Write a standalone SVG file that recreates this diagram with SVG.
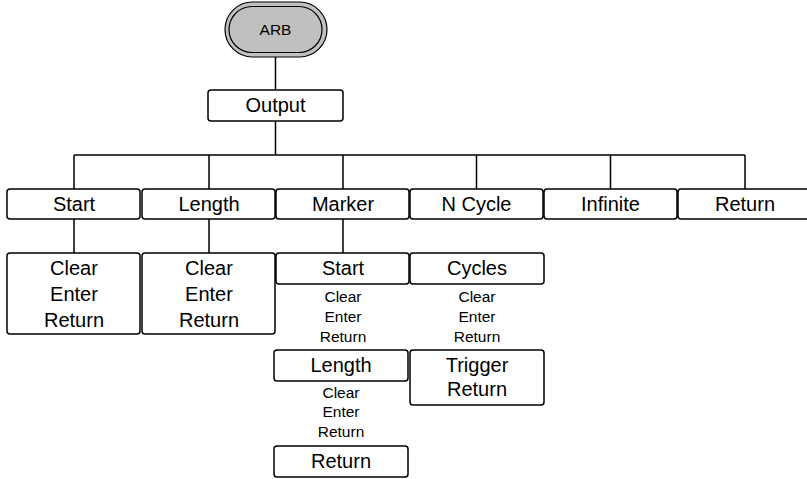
<svg xmlns="http://www.w3.org/2000/svg" width="807" height="479" viewBox="0 0 807 479">
<style>
.box{fill:#fff;stroke:#000;stroke-width:1.5}
.t{font-family:"Liberation Sans",Arial,sans-serif;font-size:20px;text-anchor:middle;fill:#000}
.s{font-family:"Liberation Sans",Arial,sans-serif;font-size:15.5px;text-anchor:middle;fill:#000}
.c{fill:none;stroke:#000;stroke-width:1.5}
</style>
<rect width="807" height="479" fill="#fff"/>
<g id="connectors">
<path class="c" d="M275.5 57V90M275.5 121V155M74 155H745M74 155V189M209 155V189M343 155V189M476.5 155V189M610.5 155V189M745 155V189M74 219V253M209 219V253M343 219V253"/>
</g>
<g id="arb">
<rect x="225" y="2" width="102" height="55" rx="27.5" fill="#c0c0c0" stroke="#000" stroke-width="1.2"/>
<rect x="229" y="6.5" width="93" height="46" rx="23" fill="none" stroke="#000" stroke-width="1.2"/>
<text class="s" x="275.5" y="35" font-size="15.5">ARB</text>
</g>
<g id="output"><rect class="box" x="208" y="90" width="135" height="31" rx="3"/><text class="t" x="275.5" y="112">Output</text></g>
<g id="start"><rect class="box" x="7" y="189" width="133" height="30" rx="3"/><text class="t" x="74" y="211">Start</text></g>
<g id="length"><rect class="box" x="142" y="189" width="133" height="30" rx="3"/><text class="t" x="209" y="211">Length</text></g>
<g id="marker"><rect class="box" x="276" y="189" width="133" height="30" rx="3"/><text class="t" x="343" y="211">Marker</text></g>
<g id="ncycle"><rect class="box" x="410" y="189" width="133" height="30" rx="3"/><text class="t" x="476.5" y="211">N Cycle</text></g>
<g id="infinite"><rect class="box" x="544" y="189" width="133" height="30" rx="3"/><text class="t" x="610.5" y="211">Infinite</text></g>
<g id="return"><rect class="box" x="678" y="189" width="134" height="30" rx="3"/><text class="t" x="745" y="211">Return</text></g>
<g id="start-sub"><rect class="box" x="7" y="253" width="133" height="81" rx="3"/>
<text class="t" x="74" y="275">Clear</text><text class="t" x="74" y="301">Enter</text><text class="t" x="74" y="327">Return</text></g>
<g id="length-sub"><rect class="box" x="142" y="253" width="133" height="81" rx="3"/>
<text class="t" x="209" y="275">Clear</text><text class="t" x="209" y="301">Enter</text><text class="t" x="209" y="327">Return</text></g>
<g id="marker-start"><rect class="box" x="276" y="253" width="133" height="31" rx="3"/><text class="t" x="343" y="275">Start</text>
<text class="s" x="343" y="302">Clear</text><text class="s" x="343" y="322">Enter</text><text class="s" x="343" y="342">Return</text></g>
<g id="cycles"><rect class="box" x="410" y="253" width="134" height="31" rx="3"/><text class="t" x="477" y="275">Cycles</text>
<text class="s" x="477" y="302">Clear</text><text class="s" x="477" y="322">Enter</text><text class="s" x="477" y="342">Return</text></g>
<g id="marker-length"><rect class="box" x="274" y="350" width="134" height="31" rx="3"/><text class="t" x="341" y="372">Length</text>
<text class="s" x="341" y="398">Clear</text><text class="s" x="341" y="417">Enter</text><text class="s" x="341" y="437">Return</text></g>
<g id="marker-return"><rect class="box" x="274" y="446" width="134" height="31" rx="3"/><text class="t" x="341" y="468">Return</text></g>
<g id="trigger"><rect class="box" x="410" y="350" width="134" height="55" rx="3"/><text class="t" x="477" y="372">Trigger</text><text class="t" x="477" y="396">Return</text></g>
</svg>
